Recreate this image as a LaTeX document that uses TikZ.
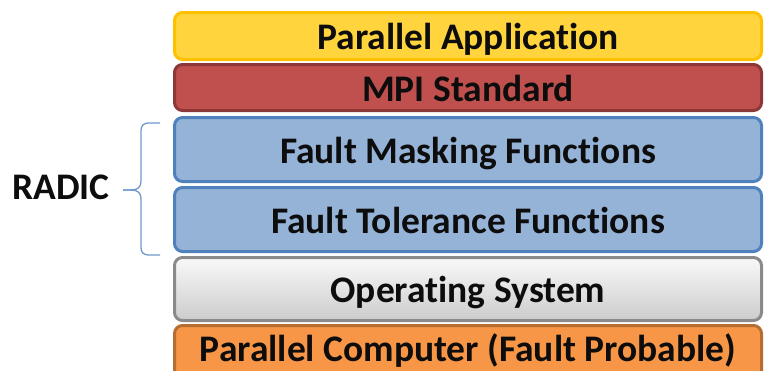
\documentclass[tikz,border=0pt]{standalone}
\usepackage{fontspec}
\setmainfont{Carlito}[Ligatures=NoCommon]
\definecolor{appfill}{HTML}{FFD43C}
\definecolor{appdraw}{HTML}{FFC000}
\definecolor{mpifill}{HTML}{C0504D}
\definecolor{mpidraw}{HTML}{8C3836}
\definecolor{ftfill}{HTML}{95B3D7}
\definecolor{ftdraw}{HTML}{4F81BD}
\definecolor{osdraw}{HTML}{8A8A8A}
\definecolor{hwfill}{HTML}{F79646}
\definecolor{hwdraw}{HTML}{B66D31}
\definecolor{bracecol}{HTML}{7098CC}
\definecolor{txt}{HTML}{0D0D0D}
\tikzset{
  bigtext/.style={text=txt, font=\fontsize{37.5}{40}\selectfont\bfseries,
    text height=30pt, text depth=3pt, inner sep=0pt},
  layer/.style={bigtext, rectangle, rounded corners=8pt, line width=3pt,
    minimum width=587pt}
}
\begin{document}
\begin{tikzpicture}[x=1pt,y=-1pt]
  \useasboundingbox (0,0) rectangle (764,370);
  % stack of layers, top to bottom
  \node[layer, fill=appfill, draw=appdraw, minimum height=47pt] (app) at (468,36) {Parallel Application};
  \node[layer, fill=mpifill, draw=mpidraw, minimum height=46pt] (mpi) at (468,87.5) {MPI Standard};
  \node[layer, fill=ftfill, draw=ftdraw, minimum height=64pt] (mask) at (468,149.5) {Fault Masking Functions};
  \node[layer, fill=ftfill, draw=ftdraw, minimum height=64pt] (tol) at (468,219.5) {Fault Tolerance Functions};
  \node[layer, top color=white!95!gray, bottom color=black!20, draw=osdraw, minimum height=63pt] (os) at (468,289) {Operating System};
  \node[layer, fill=hwfill, draw=hwdraw, minimum height=56pt] (hw) at (468,353.5) {};
  \node[bigtext] (hwlabel) at (468,347.5) {Parallel Computer (Fault Probable)};
  % curly brace grouping the two RADIC layers
  \coordinate (bt) at (160,123);
  \coordinate (bb) at (160,255);
  \coordinate (tip) at (123,190);
  \draw[bracecol, line width=1.3pt]
    (bt) -- (150,123) .. controls (143,123) and (141,125) .. (141,132)
    -- (141,181) .. controls (141,187) and (138,190) .. (131,190) -- (tip);
  \draw[bracecol, line width=1.3pt]
    (tip) -- (131,190) .. controls (138,190) and (141,193) .. (141,199)
    -- (141,246) .. controls (141,253) and (143,255) .. (150,255) -- (bb);
  \node[bigtext] (radic) at (61,186) {RADIC};
\end{tikzpicture}
\end{document}
